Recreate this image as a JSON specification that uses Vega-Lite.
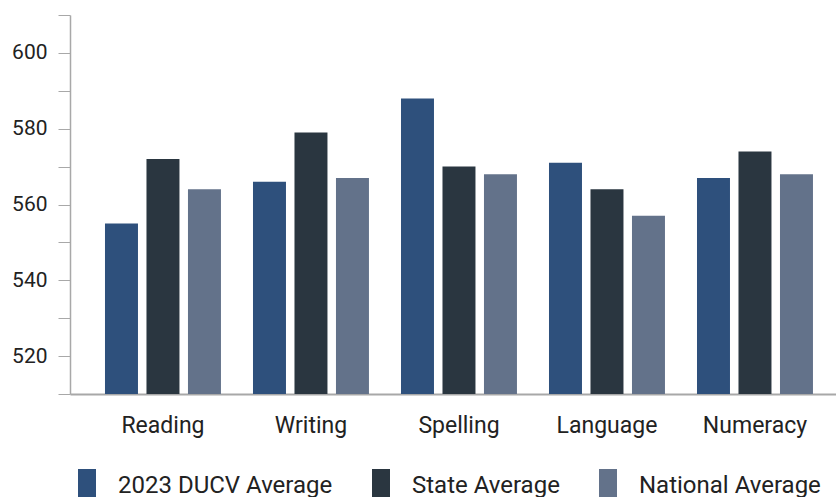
{
  "$schema": "https://vega.github.io/schema/vega-lite/v6.json",
  "width": 766,
  "height": 379,
  "autosize": {"type": "none"},
  "padding": {"left": 70, "top": 15, "right": 0, "bottom": 103},
  "background": "white",
  "config": {
    "view": {"stroke": null},
    "font": "Roboto"
  },
  "data": {
    "values": [
      {"domain": "Reading", "series": "2023 DUCV Average", "score": 555},
      {"domain": "Reading", "series": "State Average", "score": 572},
      {"domain": "Reading", "series": "National Average", "score": 564},
      {"domain": "Writing", "series": "2023 DUCV Average", "score": 566},
      {"domain": "Writing", "series": "State Average", "score": 579},
      {"domain": "Writing", "series": "National Average", "score": 567},
      {"domain": "Spelling", "series": "2023 DUCV Average", "score": 588},
      {"domain": "Spelling", "series": "State Average", "score": 570},
      {"domain": "Spelling", "series": "National Average", "score": 568},
      {"domain": "Language", "series": "2023 DUCV Average", "score": 571},
      {"domain": "Language", "series": "State Average", "score": 564},
      {"domain": "Language", "series": "National Average", "score": 557},
      {"domain": "Numeracy", "series": "2023 DUCV Average", "score": 567},
      {"domain": "Numeracy", "series": "State Average", "score": 574},
      {"domain": "Numeracy", "series": "National Average", "score": 568}
    ]
  },
  "mark": {"type": "bar"},
  "encoding": {
    "x": {
      "field": "domain",
      "type": "nominal",
      "sort": ["Reading", "Writing", "Spelling", "Language", "Numeracy"],
      "scale": {"paddingInner": 0, "paddingOuter": 0.0878, "align": 0.73},
      "axis": {
        "title": null,
        "labelAngle": 0,
        "labelFont": "Roboto",
        "labelFontSize": 23,
        "labelColor": "#222222",
        "labelPadding": 20,
        "ticks": false,
        "domainColor": "#a8a8a8",
        "domainWidth": 2
      }
    },
    "xOffset": {
      "field": "series",
      "type": "nominal",
      "sort": ["2023 DUCV Average", "State Average", "National Average"],
      "scale": {"paddingInner": 0.205, "paddingOuter": 0.386}
    },
    "y": {
      "field": "score",
      "type": "quantitative",
      "scale": {"domain": [510, 610], "zero": false, "nice": false},
      "axis": {
        "title": null,
        "grid": false,
        "values": [510, 520, 530, 540, 550, 560, 570, 580, 590, 600, 610],
        "labelExpr": "datum.value % 20 == 0 && datum.value < 610 && datum.value > 510 ? datum.label : ''",
        "labelFont": "Roboto",
        "labelFontSize": 21,
        "labelColor": "#222222",
        "labelPadding": 11,
        "tickSize": 12,
        "tickColor": "#a8a8a8",
        "domainColor": "#a8a8a8",
        "domainWidth": 1.5
      }
    },
    "y2": {"datum": 510},
    "color": {
      "field": "series",
      "type": "nominal",
      "sort": ["2023 DUCV Average", "State Average", "National Average"],
      "scale": {
        "domain": ["2023 DUCV Average", "State Average", "National Average"],
        "range": ["#2e507c", "#2a3640", "#63728a"]
      },
      "legend": {
        "title": null,
        "orient": "none",
        "direction": "horizontal",
        "legendX": 0,
        "legendY": 454,
        "symbolType": "M-0.53,-1H0.53V1H-0.53Z",
        "symbolSize": 1156,
        "symbolStrokeWidth": 0,
        "labelFont": "Roboto",
        "labelFontSize": 24,
        "labelColor": "#222222",
        "labelOffset": 14,
        "columnPadding": 31,
        "labelLimit": 400
      }
    }
  }
}
